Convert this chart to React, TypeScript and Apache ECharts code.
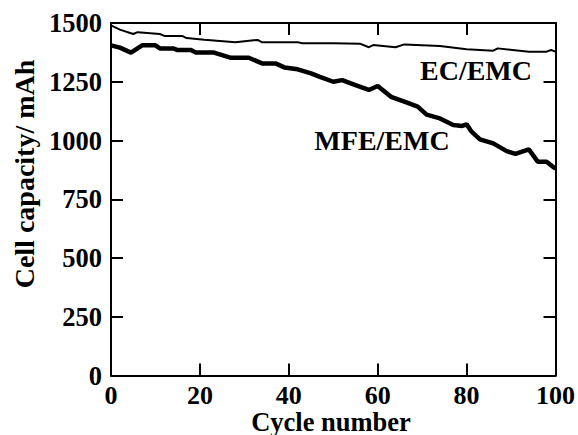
import React, { useEffect, useRef } from "react";
import * as echarts from "echarts";

const xTicks = [0, 20, 40, 60, 80, 100];
const yTicks = [0, 250, 500, 750, 1000, 1250, 1500];

const ecCycles = [0, 2, 5, 6, 11, 12, 16, 17, 21, 28, 33, 34, 42, 43, 50, 56, 58, 59, 64, 66, 74, 80, 86, 87, 94, 98, 99, 100];
const ecCapacity = [1490, 1472, 1453, 1461, 1453, 1445, 1445, 1436, 1429, 1418, 1428, 1418, 1418, 1414, 1414, 1412, 1397, 1406, 1397, 1409, 1402, 1388, 1382, 1392, 1378, 1378, 1385, 1378];

const mfeCycles = [0, 2, 4.5, 7, 10, 11, 14, 15, 18, 19, 23, 27, 31, 34, 37, 39, 42, 45, 47, 50, 52, 55, 58, 60, 63, 66, 69, 71, 74, 77, 79, 80, 81, 83, 86, 89, 91, 94, 96, 98, 100];
const mfeCapacity = [1405, 1395, 1374, 1405, 1405, 1392, 1392, 1385, 1385, 1375, 1375, 1352, 1352, 1328, 1328, 1311, 1303, 1286, 1271, 1250, 1257, 1236, 1215, 1232, 1186, 1165, 1144, 1110, 1094, 1066, 1062, 1069, 1040, 1005, 988, 955, 943, 962, 910, 910, 880];

const seriesLabels = ["EC/EMC", "MFE/EMC"];
const xTitle = "Cycle number";
const yTitle = "Cell capacity/ mAh";

const FONT = "'Liberation Serif', 'Times New Roman', serif";

export default function App() {
  const ref = useRef<HTMLDivElement>(null);
  useEffect(() => {
    if (!ref.current) return;
    const chart = echarts.init(ref.current, null, { renderer: "svg" });
    const labelStyle = { color: "#000", fontFamily: FONT, fontWeight: "bold" as const, fontSize: 26.5, lineHeight: 18 };
    const mkLine = () => ({ show: true, onZero: false, lineStyle: { color: "#000", width: 2 } });
    const mkTick = () => ({ show: true, inside: true, length: 12, lineStyle: { color: "#000", width: 2 } });
    const fmt = (v: number) => String(v);
    const option = {
      animation: false,
      grid: { left: 111, right: 21, top: 23, bottom: 59.5, show: false },
      xAxis: [
        {
          type: "value", min: xTicks[0], max: xTicks[xTicks.length - 1], interval: 20,
          position: "bottom", axisLine: mkLine(), axisTick: mkTick(), splitLine: { show: false },
          axisLabel: { ...labelStyle, fontSize: 26, margin: 10.5, formatter: fmt },
        },
        {
          type: "value", min: xTicks[0], max: xTicks[xTicks.length - 1], interval: 20,
          position: "top", axisLine: mkLine(), axisTick: mkTick(), splitLine: { show: false },
          axisLabel: { show: false },
        },
      ],
      yAxis: [
        {
          type: "value", min: yTicks[0], max: yTicks[yTicks.length - 1], interval: 250,
          position: "left", axisLine: mkLine(), axisTick: mkTick(), splitLine: { show: false },
          axisLabel: { ...labelStyle, margin: 9, formatter: fmt },
        },
        {
          type: "value", min: yTicks[0], max: yTicks[yTicks.length - 1], interval: 250,
          position: "right", axisLine: mkLine(), axisTick: mkTick(), splitLine: { show: false },
          axisLabel: { show: false },
        },
      ],
      series: [
        {
          name: seriesLabels[0], type: "line", symbol: "none",
          data: ecCycles.map((c, i) => [c, ecCapacity[i]]),
          lineStyle: { color: "#000", width: 2 },
        },
        {
          name: seriesLabels[1], type: "line", symbol: "none",
          data: mfeCycles.map((c, i) => [c, mfeCapacity[i]]),
          lineStyle: { color: "#000", width: 4.5 },
        },
      ],
      graphic: [
        {
          type: "text", x: 476, y: 70,
          style: { text: seriesLabels[0], fill: "#000", fontFamily: FONT, fontWeight: "bold", fontSize: 28, lineHeight: 20, align: "center", verticalAlign: "middle", textAlign: "center", textVerticalAlign: "middle" },
        },
        {
          type: "text", x: 382, y: 140,
          style: { text: seriesLabels[1], fill: "#000", fontFamily: FONT, fontWeight: "bold", fontSize: 28, lineHeight: 20, align: "center", verticalAlign: "middle", textAlign: "center", textVerticalAlign: "middle" },
        },
        {
          type: "text", x: 331, y: 421.5,
          style: { text: xTitle, fill: "#000", fontFamily: FONT, fontWeight: "bold", fontSize: 26.5, lineHeight: 16, align: "center", verticalAlign: "middle", textAlign: "center", textVerticalAlign: "middle" },
        },
        {
          type: "text", x: 24, y: 174, rotation: Math.PI / 2,
          style: { text: yTitle, fill: "#000", fontFamily: FONT, fontWeight: "bold", fontSize: 28, lineHeight: 20, align: "center", verticalAlign: "middle", textAlign: "center", textVerticalAlign: "middle" },
        },
      ],
    };
    chart.setOption(option as any);
    return () => chart.dispose();
  }, []);
  return (
    <div
      ref={ref}
      style={{ position: "fixed", left: 0, top: 0, width: 578, height: 435, background: "#fff" }}
    />
  );
}
